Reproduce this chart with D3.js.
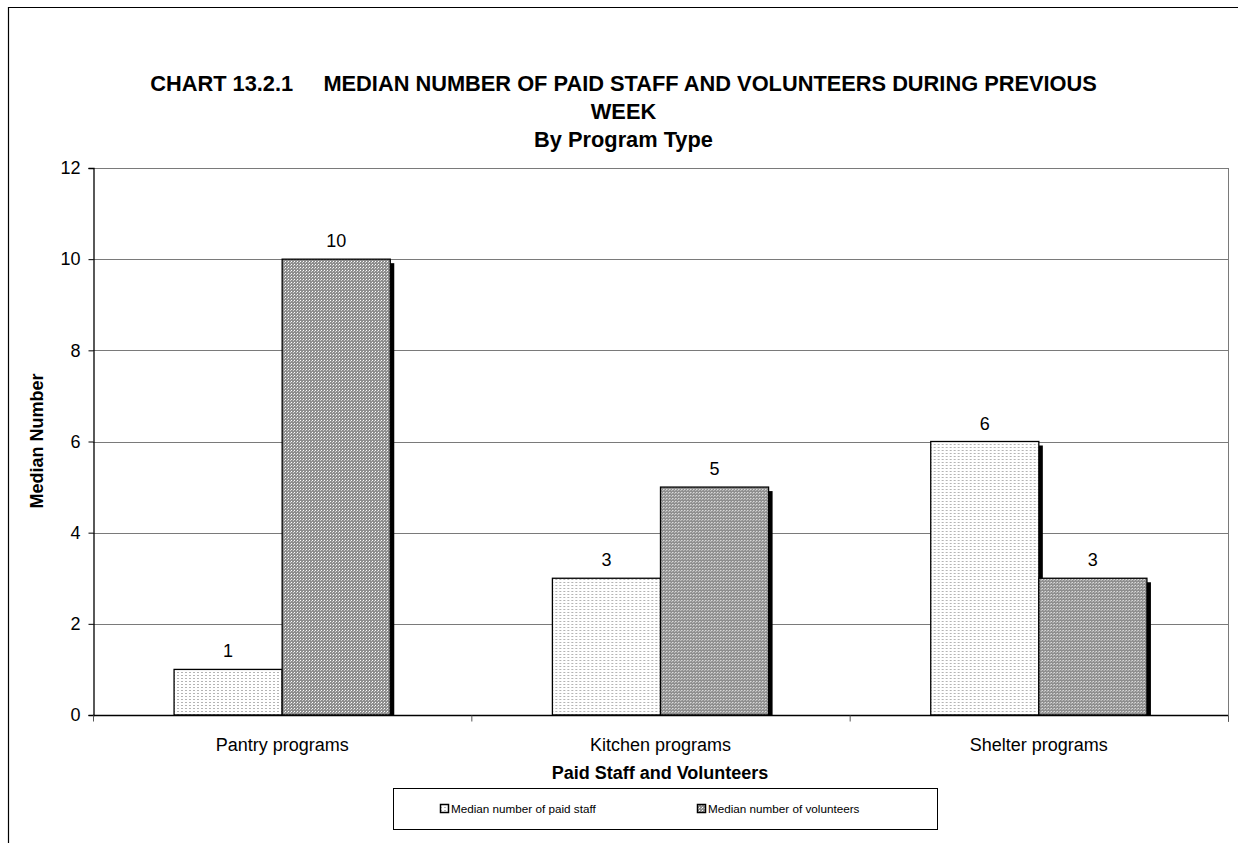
<!DOCTYPE html>
<html>
<head>
<meta charset="utf-8">
<script src="https://cdn.jsdelivr.net/npm/d3@7"></script>
<style>
  body { margin: 0; background: #fff; }
  svg { display: block; font-family: "Liberation Sans", Arial, sans-serif; }
</style>
</head>
<body>
<svg id="chart" width="1238" height="843"></svg>
<script>
// Program types and median counts per week
const categories = ["Pantry programs", "Kitchen programs", "Shelter programs"];
const seriesNames = ["Median number of paid staff", "Median number of volunteers"];
const paidStaff = [1, 3, 6];
const volunteers = [10, 5, 3];
const yTicks = [0, 2, 4, 6, 8, 10, 12];

const svg = d3.select("#chart");

// Dotted fills for the two series
const defs = svg.append("defs");
const light = defs.append("pattern").attr("id", "dotsLight")
  .attr("patternUnits", "userSpaceOnUse").attr("width", 4).attr("height", 3);
light.append("rect").attr("width", 4).attr("height", 3).attr("fill", "#fff");
light.append("rect").attr("x", 0).attr("y", 0).attr("width", 2).attr("height", 1).attr("fill", "#b4b4b4");

const dark = defs.append("pattern").attr("id", "dotsDark")
  .attr("patternUnits", "userSpaceOnUse").attr("width", 3).attr("height", 3);
dark.append("rect").attr("width", 3).attr("height", 3).attr("fill", "#8e8e8e");
dark.append("rect").attr("x", 0).attr("y", 0).attr("width", 1).attr("height", 1).attr("fill", "#fff");
dark.append("rect").attr("x", 2).attr("y", 1).attr("width", 1).attr("height", 1).attr("fill", "#d0d0d0");

// Outer chart frame (runs off the right and bottom edges)
svg.append("path")
  .attr("d", "M8.5,843 L8.5,7.5 L1240,7.5")
  .attr("fill", "none").attr("stroke", "#000").attr("stroke-width", 1.2);

const plot = { left: 93, top: 168, right: 1228, bottom: 715 };

const x = d3.scaleBand().domain(categories).range([plot.left, plot.right]).paddingInner(0).paddingOuter(0);
const inner = d3.scaleBand().domain(seriesNames).range([0, x.bandwidth()])
  .paddingOuter(0.75).paddingInner(0);
const y = d3.scaleLinear().domain([0, 12]).range([plot.bottom, plot.top]);

// Grid lines
svg.append("g").selectAll("line").data(yTicks.filter(d => d > 0)).join("line")
  .attr("x1", plot.left).attr("x2", plot.right)
  .attr("y1", d => Math.round(y(d)) + 0.5).attr("y2", d => Math.round(y(d)) + 0.5)
  .attr("stroke", "#7a7a7a").attr("stroke-width", 1);

// Right border of plot area
svg.append("line")
  .attr("x1", plot.right + 0.5).attr("x2", plot.right + 0.5)
  .attr("y1", plot.top).attr("y2", plot.bottom + 7)
  .attr("stroke", "#7a7a7a");

const rows = categories.map((c, i) => ({ cat: c, values: [paidStaff[i], volunteers[i]] }));

const groups = svg.append("g").selectAll("g").data(rows).join("g")
  .attr("transform", d => `translate(${x(d.cat)},0)`);

// Shadows behind bars
groups.selectAll("rect.shadow").data(d => d.values.map((v, j) => ({ v, s: seriesNames[j] }))).join("rect")
  .attr("class", "shadow")
  .attr("x", d => inner(d.s) + inner.bandwidth() - 1)
  .attr("y", d => y(d.v) + 4)
  .attr("width", 5)
  .attr("height", d => plot.bottom - y(d.v) - 4)
  .attr("fill", "#000");

// Bars
groups.selectAll("rect.bar").data(d => d.values.map((v, j) => ({ v, s: seriesNames[j], j }))).join("rect")
  .attr("class", "bar")
  .attr("x", d => inner(d.s))
  .attr("y", d => y(d.v))
  .attr("width", inner.bandwidth())
  .attr("height", d => plot.bottom - y(d.v))
  .attr("fill", d => d.j === 0 ? "url(#dotsLight)" : "url(#dotsDark)")
  .attr("stroke", "#000").attr("stroke-width", 1.3);

// Value labels
groups.selectAll("text.val").data(d => d.values.map((v, j) => ({ v, s: seriesNames[j] }))).join("text")
  .attr("class", "val")
  .attr("x", d => inner(d.s) + inner.bandwidth() / 2)
  .attr("y", d => y(d.v) - 12)
  .attr("text-anchor", "middle")
  .attr("font-size", 18)
  .text(d => d.v);

// Y axis
const yAxis = d3.axisLeft(y).tickValues(yTicks).tickSize(5).tickPadding(8);
const gy = svg.append("g").attr("transform", `translate(${plot.left + 0.5},0)`).call(yAxis);
gy.select(".domain").attr("stroke", "#000").attr("stroke-width", 1.3);
gy.selectAll(".tick line").attr("stroke", "#000");
gy.selectAll(".tick text").attr("font-size", 18).attr("font-family", "Liberation Sans, Arial, sans-serif").attr("fill", "#000");

// X axis baseline and category ticks
const gx = svg.append("g").attr("transform", `translate(0,${plot.bottom + 0.5})`);
gx.append("line").attr("x1", plot.left).attr("x2", plot.right).attr("stroke", "#000").attr("stroke-width", 1.3);
const boundaries = categories.map(c => x(c)).concat([plot.right]);
gx.selectAll("line.tk").data(boundaries).join("line").attr("class", "tk")
  .attr("x1", d => d + 0.5).attr("x2", d => d + 0.5).attr("y1", 0).attr("y2", 6)
  .attr("stroke", "#555");
gx.selectAll("text").data(categories).join("text")
  .attr("x", d => x(d) + x.bandwidth() / 2).attr("y", 35)
  .attr("text-anchor", "middle").attr("font-size", 18)
  .text(d => d);

// Titles
const title = svg.append("text").attr("text-anchor", "middle")
  .attr("font-weight", "bold").attr("font-size", 21.8).attr("xml:space", "preserve");
title.append("tspan").attr("x", 623.5).attr("y", 91).text("CHART 13.2.1     MEDIAN NUMBER OF PAID STAFF AND VOLUNTEERS DURING PREVIOUS");
title.append("tspan").attr("x", 623.5).attr("y", 119).text("WEEK");
title.append("tspan").attr("x", 623.5).attr("y", 147).text("By Program Type");

svg.append("text").attr("x", 660).attr("y", 779).attr("text-anchor", "middle")
  .attr("font-weight", "bold").attr("font-size", 18).text("Paid Staff and Volunteers");

svg.append("text").attr("transform", "translate(43,441) rotate(-90)").attr("text-anchor", "middle")
  .attr("font-weight", "bold").attr("font-size", 18).text("Median Number");

// Legend
const lg = svg.append("g");
lg.append("rect").attr("x", 393.5).attr("y", 788.5).attr("width", 544).attr("height", 41)
  .attr("fill", "#fff").attr("stroke", "#000").attr("stroke-width", 1);
const legendX = [440, 697];
seriesNames.forEach((s, i) => {
  lg.append("rect").attr("x", legendX[i] + 0.5).attr("y", 804.5).attr("width", 8).attr("height", 8)
    .attr("fill", i === 0 ? "url(#dotsLight)" : "url(#dotsDark)").attr("stroke", "#000").attr("stroke-width", 1.5);
  lg.append("text").attr("x", legendX[i] + 11).attr("y", 813).attr("font-size", 11.7).text(s);
});
</script>
</body>
</html>
